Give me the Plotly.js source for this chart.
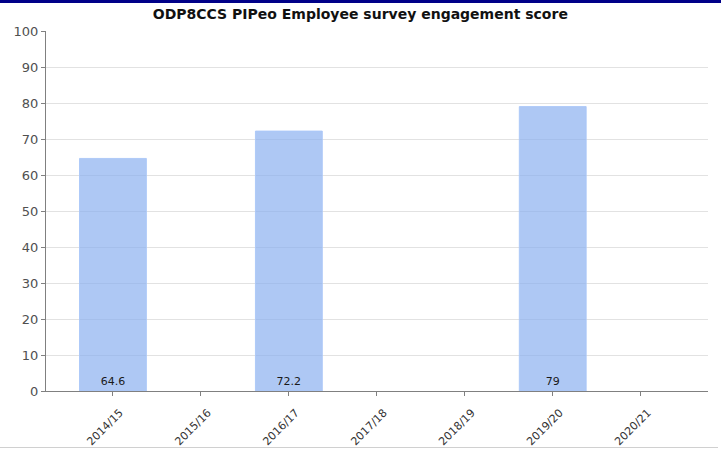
<!DOCTYPE html>
<html>
<head>
<meta charset="utf-8">
<script src="https://cdn.plot.ly/plotly-3.0.1.min.js"></script>
<style>
  html, body { margin: 0; padding: 0; background: #fff; }
  #wrap { position: relative; width: 725px; height: 450px; overflow: hidden; }
  #chart { position: absolute; left: 0; top: 0; width: 725px; height: 450px; }
  #topbar { position: absolute; left: 0; top: 0; width: 721px; height: 3px; background: #000088; z-index: 5; }
  #botline { position: absolute; left: 0; top: 447px; width: 718px; height: 1px; background: #d0d0d0; z-index: 5; }
</style>
</head>
<body>
<div id="wrap">
  <div id="chart"></div>
  <div id="topbar"></div>
  <div id="botline"></div>
</div>
<script>
const categories = ["2014/15", "2015/16", "2016/17", "2017/18", "2018/19", "2019/20", "2020/21"];
const scores = [64.6, null, 72.2, null, null, 79, null];
const yTicks = [0, 10, 20, 30, 40, 50, 60, 70, 80, 90, 100];
const chartTitle = "ODP8CCS PIPeo Employee survey engagement score";

const trace = {
  type: "bar",
  x: categories,
  y: scores,
  width: 0.76,
  text: scores.map(v => v === null ? "" : String(v)),
  textposition: "inside",
  insidetextanchor: "start",
  textangle: 0,
  textfont: { family: "DejaVu Sans, sans-serif", size: 11, color: "#1a1a1a" },
  marker: {
    color: "rgba(140,176,240,0.7)",
    line: { color: "rgba(170,198,248,0.9)", width: 1 }
  },
  hoverinfo: "none",
  cliponaxis: false
};

const layout = {
  width: 725,
  height: 450,
  margin: { l: 46, r: 17, t: 31, b: 59 },
  paper_bgcolor: "#ffffff",
  plot_bgcolor: "#ffffff",
  showlegend: false,
  title: {
    text: "<b>" + chartTitle + "</b>",
    xref: "container",
    x: 0.497,
    xanchor: "center",
    yref: "container",
    y: 0.969,
    yanchor: "middle",
    font: { family: "DejaVu Sans, sans-serif", size: 14, color: "#111" }
  },
  xaxis: {
    type: "category",
    range: [-0.761, 6.765],
    tickmode: "array",
    tickvals: categories,
    ticktext: categories,
    tickangle: -45,
    ticks: "outside",
    ticklen: 4,
    tickcolor: "#808080",
    showline: true,
    linecolor: "#808080",
    linewidth: 1,
    showgrid: false,
    zeroline: false,
    ticklabelshift: 7,
    ticklabelstandoff: 6,
    tickfont: { family: "DejaVu Sans, sans-serif", size: 11, color: "#333" },
    fixedrange: true
  },
  yaxis: {
    range: [0, 100],
    tickmode: "array",
    tickvals: yTicks,
    ticktext: yTicks.map(String),
    ticks: "outside",
    ticklen: 4,
    tickcolor: "#808080",
    showline: true,
    linecolor: "#808080",
    linewidth: 1,
    showgrid: true,
    gridcolor: "#e2e2e2",
    gridwidth: 1,
    zeroline: false,
    tickfont: { family: "DejaVu Sans, sans-serif", size: 13, color: "#505050" },
    fixedrange: true
  },
  bargap: 0.2
};

Plotly.newPlot("chart", [trace], layout, { displayModeBar: false, staticPlot: true });
</script>
</body>
</html>
